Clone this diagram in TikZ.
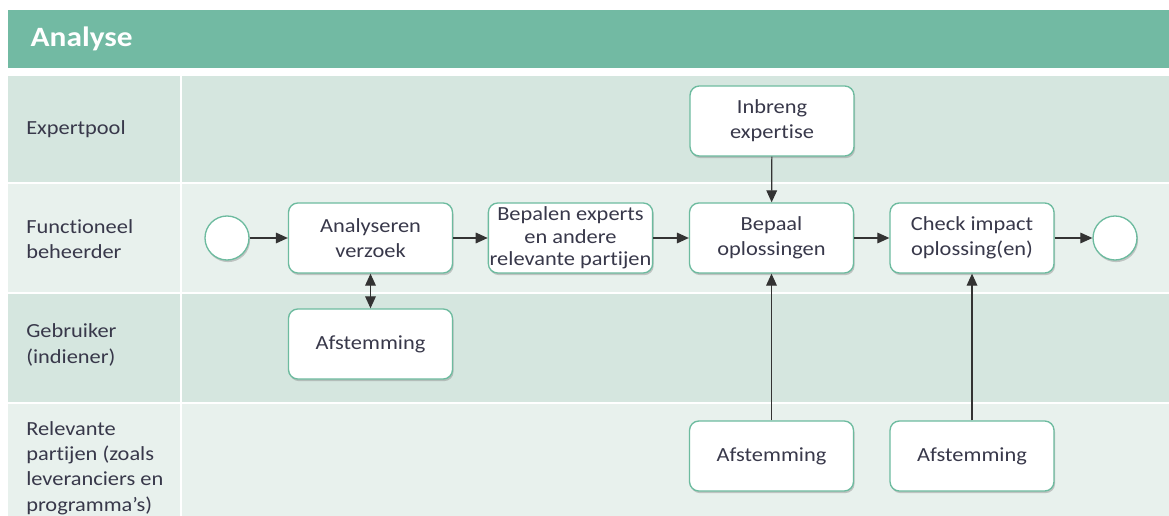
\documentclass[tikz,border=0pt]{standalone}
\usepackage{fontspec}
\setmainfont{Carlito}[FakeStretch=1.12, Ligatures=NoCommon]
\usetikzlibrary{shadows,arrows.meta}
\definecolor{hdr}{HTML}{72BAA3}
\definecolor{laneA}{HTML}{D5E6DF}
\definecolor{laneB}{HTML}{E8F1ED}
\definecolor{edge}{HTML}{6DBB9F}
\definecolor{ink}{HTML}{38384A}
\definecolor{arr}{HTML}{333333}
\tikzset{
  boxshadow/.style={drop shadow={opacity=0.4, shadow xshift=0.8pt, shadow yshift=-1.6pt}},
  task/.style={draw=edge, line width=1pt, fill=white, rounded corners=7pt,
    minimum width=123pt, minimum height=52.5pt, align=center, text=ink,
    font=\fontsize{15}{18.5}\selectfont, inner sep=1pt, boxshadow},
  event/.style={circle, draw=edge, line width=1pt, fill=white,
    minimum size=33pt, inner sep=0pt, boxshadow},
  tip/.style={Triangle[length=9pt,width=8pt]},
  flow/.style={draw=arr, line width=0.9pt, -{Triangle[length=9pt,width=8pt]}},
  lanelabel/.style={anchor=west, align=left, text=ink, font=\fontsize{15}{19}\selectfont, inner sep=0pt}
}
\begin{document}
\begin{tikzpicture}[x=0.75pt,y=-0.75pt]
\useasboundingbox (0,0) rectangle (1169,516);
% header band
\fill[hdr] (8,10) rectangle (1169,68);
\node[anchor=west, text=white, font=\bfseries\fontsize{21}{24}\selectfont] (title) at (26,39) {Analyse};
% swimlanes
\fill[laneA] (8,76) rectangle (1169,182);
\fill[laneB] (8,184) rectangle (1169,292);
\fill[laneA] (8,294) rectangle (1169,402);
\fill[laneB] (8,404) rectangle (1169,516);
\draw[white, line width=1.5pt] (181,76) -- (181,516);
% lane labels
\node[lanelabel] (l1) at (26,129) {Expertpool};
\node[lanelabel] (l2) at (26,239) {Functioneel\\beheerder};
\node[lanelabel] (l3) at (26,345) {Gebruiker\\(indiener)};
\node[lanelabel] (l4) at (26,468) {Relevante\\partijen (zoals\\leveranciers en\\programma’s)};
% events and tasks
\node[event] (start) at (227,238) {};
\node[task] (analyse) at (370.5,238) {Analyseren\\verzoek};
\node[task] (afst1) at (370.5,344) {Afstemming};
\node[task, font=\fontsize{15}{17}\selectfont] (bepalen) at (570.5,238) {Bepalen experts\\en andere\\relevante partijen};
\node[task] (bepaal) at (771.5,238) {Bepaal\\oplossingen};
\node[task] (inbreng) at (772,121) {Inbreng\\expertise};
\node[task] (check) at (972,238) {Check impact\\oplossing(en)};
\node[task] (afst2) at (771.5,456) {Afstemming};
\node[task] (afst3) at (972,456) {Afstemming};
\node[event] (end) at (1115,238) {};
% sequence flow
\draw[flow] (start) -- (analyse);
\draw[flow] (analyse) -- (bepalen);
\draw[flow] (bepalen) -- (bepaal);
\draw[flow] (bepaal) -- (check);
\draw[flow] (check) -- (end);
\draw[flow] (inbreng) -- (bepaal);
\draw[flow] (afst2) -- (bepaal);
\draw[flow] (afst3) -- (check);
\draw[flow, {Triangle[length=9pt,width=8pt]}-{Triangle[length=9pt,width=8pt]}] (analyse) -- (afst1);
\end{tikzpicture}
\end{document}
